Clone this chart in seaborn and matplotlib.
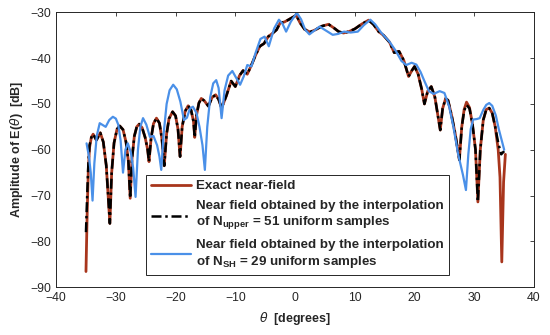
import matplotlib
matplotlib.use('Agg')
import matplotlib.pyplot as plt
import seaborn as sns

# exact near-field pattern
theta_exact = [-35.0, -34.8, -34.6, -34.4, -34.1, -33.8, -33.25, -32.6, -32.1, -31.6, -31.0,
               -30.7, -30.3, -29.8, -29.35, -28.8, -28.3, -27.9, -27.6,
               -27.3, -26.9, -26.5, -26.1, -25.6, -25.1, -24.7, -24.45,
               -24.1, -23.7, -23.2, -22.7, -22.3, -21.9,
               -21.5, -21.1, -20.5, -20.0, -19.6, -19.25,
               -18.9, -18.4, -17.9, -17.4, -17.0, -16.8,
               -16.5, -16.1, -15.7, -15.2, -14.5, -13.9, -13.3, -12.8, -12.3,
               -11.5, -10.7, -10.0, -9.3, -8.7, -8.0, -7.3, -6.6, -5.9, -5.2, -4.5, -3.8, -3.1,
               -2.5, -1.8, -1.1, -0.3, 0.2, 0.8, 1.6, 2.5, 3.4, 4.5, 5.6, 6.5, 7.3, 8.1, 9.0,
               10.0, 11.1, 12.3, 13.1, 14.0, 14.8, 15.8, 16.6, 17.4, 18.2, 19.0, 19.5, 20.0,
               20.6, 21.2, 21.65, 22.2, 22.8, 23.4, 23.9, 24.3, 24.7, 25.2, 25.6, 26.2, 26.8,
               27.5, 27.9, 28.3, 28.7, 29.2, 29.7, 30.2, 30.6, 31.0, 31.5, 32.0, 32.5, 33.0,
               33.5, 34.0, 34.3, 34.6, 34.9, 35.2]
amp_exact = [-86.6, -74.0, -64.0, -59.5, -57.3, -56.6, -57.9, -56.3, -58.3, -63.5, -76.1,
             -65.0, -58.5, -55.5, -54.8, -55.6, -58.3, -62.5, -70.6,
             -62.0, -57.0, -55.0, -54.4, -55.2, -57.3, -59.8, -62.6,
             -57.5, -54.3, -53.1, -54.2, -57.5, -63.5,
             -56.5, -53.2, -51.7, -52.6, -55.5, -61.5,
             -55.0, -51.6, -50.4, -51.4, -53.8, -57.3,
             -52.5, -49.8, -48.8, -49.3, -50.5, -48.6, -48.0, -49.0, -50.9,
             -48.2, -45.0, -46.2, -43.8, -42.7, -43.5, -41.5, -39.3, -37.4, -36.8, -35.3, -34.6, -33.8,
             -32.3, -32.1, -31.6, -31.0, -30.6, -32.2, -33.7, -34.3, -33.8, -33.0, -32.6, -33.4, -34.2, -34.5, -34.2,
             -33.6, -32.6, -31.7, -32.6, -34.2, -35.0, -36.5, -38.8, -38.5, -40.5, -44.0, -42.8, -41.8,
             -43.5, -46.8, -50.0, -47.2, -46.2, -48.5, -52.5, -55.7, -51.0, -48.8, -49.2, -52.5, -56.5,
             -62.2, -55.0, -51.2, -49.6, -50.8, -54.5, -60.0, -71.4, -60.0, -53.5, -51.2, -50.9, -52.0,
             -55.0, -60.0, -66.0, -84.5, -67.0, -61.0]

# interpolation with N_upper = 51 samples
theta_upper = [-35.0, -34.8, -34.6, -34.4, -34.1, -33.8, -33.25, -32.6, -32.1, -31.6, -31.0,
               -30.7, -30.3, -29.8, -29.35, -28.8, -28.3, -27.9, -27.6,
               -27.3, -26.9, -26.5, -26.1, -25.6, -25.1, -24.7, -24.45,
               -24.1, -23.7, -23.2, -22.7, -22.3, -21.9,
               -21.5, -21.1, -20.5, -20.0, -19.6, -19.25,
               -18.9, -18.4, -17.9, -17.4, -17.0, -16.8,
               -16.5, -16.1, -15.7, -15.2, -14.5, -13.9, -13.3, -12.8, -12.3,
               -11.5, -10.7, -10.0, -9.3, -8.7, -8.0, -7.3, -6.6, -5.9, -5.2, -4.5, -3.8, -3.1,
               -2.5, -1.8, -1.1, -0.3, 0.2, 0.8, 1.6, 2.5, 3.4, 4.5, 5.6, 6.5, 7.3, 8.1, 9.0,
               10.0, 11.1, 12.3, 13.1, 14.0, 14.8, 15.8, 16.6, 17.4, 18.2, 19.0, 19.5, 20.0,
               20.6, 21.2, 21.65, 22.2, 22.8, 23.4, 23.9, 24.3, 24.7, 25.2, 25.6, 26.2, 26.8,
               27.5, 27.9, 28.3, 28.7, 29.2, 29.7, 30.2, 30.6, 31.0, 31.5, 32.0, 32.5, 33.0,
               33.5, 34.0, 34.5, 35.0]
amp_upper = [-78.0, -70.0, -63.0, -59.0, -57.3, -56.6, -57.9, -56.3, -58.3, -63.5, -76.1,
             -65.0, -58.5, -55.5, -54.8, -55.6, -58.3, -62.5, -70.6,
             -62.0, -57.0, -55.0, -54.4, -55.2, -57.3, -59.8, -62.6,
             -57.5, -54.3, -53.1, -54.2, -57.5, -63.5,
             -56.5, -53.2, -51.7, -52.6, -55.5, -61.5,
             -55.0, -51.6, -50.4, -51.4, -53.8, -57.3,
             -52.5, -49.8, -48.8, -49.3, -50.5, -48.6, -48.0, -49.0, -50.9,
             -48.2, -45.0, -46.2, -43.8, -42.7, -43.5, -41.5, -39.3, -37.4, -36.8, -35.3, -34.6, -33.8,
             -32.3, -32.1, -31.6, -31.0, -30.6, -32.2, -33.7, -34.3, -33.8, -33.0, -32.6, -33.4, -34.2, -34.5, -34.2,
             -33.6, -32.6, -31.7, -32.6, -34.2, -35.0, -36.5, -38.8, -38.5, -40.5, -44.0, -42.8, -41.8,
             -43.5, -46.8, -50.0, -47.2, -46.2, -48.5, -52.5, -55.7, -51.0, -48.8, -49.2, -52.5, -56.5,
             -62.2, -55.0, -51.5, -50.2, -51.0, -54.5, -60.0, -71.4, -60.0, -53.5, -51.2, -50.9, -52.0,
             -55.0, -58.5, -61.0, -60.3]

# interpolation with N_SH = 29 samples
theta_sh = [-34.9, -34.5, -34.2, -33.9, -33.6, -33.2, -32.7, -32.2, -31.7, -31.1, -30.5, -30.0,
            -29.6, -29.2, -28.8, -28.4, -28.0, -27.5, -27.1, -26.7, -26.3, -25.9, -25.45,
            -24.9, -24.3, -23.7, -23.1, -22.7, -22.4, -22.0, -21.5, -21.0, -20.4, -19.8,
            -19.2, -18.6, -18.1, -17.6, -17.1, -16.5, -16.0, -15.5, -15.1, -14.7, -14.2,
            -13.7, -13.2, -12.8, -12.3, -11.8, -11.2, -10.5, -9.9, -9.2, -8.6, -8.0, -7.3,
            -6.6, -5.8, -5.1, -4.4, -3.5, -2.7, -2.1, -1.5, -0.7, 0.3, 1.0, 1.7, 2.4, 3.2,
            4.1, 5.2, 6.3, 7.2, 8.2, 9.3, 10.5, 11.5, 12.6, 13.4, 14.4, 15.8, 16.9, 17.8,
            18.6, 19.5, 20.3, 21.0, 21.65, 22.4, 23.2, 24.2, 25.0, 25.8, 26.5, 27.3, 28.1,
            28.6, 29.0, 29.4, 29.8, 30.4, 30.9, 31.5, 32.0, 32.5, 33.0, 33.6, 34.1, 34.5, 35.0]
amp_sh = [-58.6, -61.5, -65.0, -71.1, -63.0, -57.0, -54.2, -54.6, -55.0, -53.5, -52.8, -53.2,
          -54.5, -58.0, -65.0, -60.0, -58.6, -60.5, -64.0, -70.3, -60.0, -55.0, -53.1,
          -54.5, -57.2, -57.0, -59.0, -61.5, -64.4, -56.5, -50.0, -47.0, -45.8, -46.8,
          -49.5, -53.5, -53.0, -51.0, -50.6, -52.0, -55.0, -59.0, -64.4, -55.0, -48.5,
          -45.5, -44.8, -46.5, -53.1, -47.0, -43.8, -42.8, -44.2, -45.8, -44.0, -41.5, -41.8,
          -38.8, -35.8, -35.3, -37.4, -33.5, -31.6, -32.5, -34.2, -32.0, -30.1, -31.5, -33.8, -34.8, -34.0,
          -33.1, -34.0, -34.9, -34.7, -34.2, -34.4, -34.2, -32.8, -31.6, -32.6, -34.4, -36.4, -38.5, -40.6,
          -41.5, -41.0, -41.4, -43.0, -45.0, -47.2, -47.8, -47.2, -47.6, -50.6, -55.0, -61.0, -65.5,
          -68.8, -61.0, -55.5, -53.4, -53.3, -53.1, -51.3, -50.2, -49.8, -50.4, -52.5, -55.5, -57.5, -60.0]

labels = ['Exact near-field',
          'Near field obtained by the interpolation\nof N$_{upper}$ = 51 uniform samples',
          'Near field obtained by the interpolation\nof N$_{SH}$ = 29 uniform samples']

sns.set_style('white')
plt.rcParams['font.family'] = ['Liberation Sans', 'DejaVu Sans']
plt.rcParams['mathtext.default'] = 'regular'

fig, ax = plt.subplots(figsize=(5.5, 3.35), dpi=100)
fig.subplots_adjust(left=0.102, right=0.971, top=0.963, bottom=0.143)

sns.lineplot(x=theta_exact, y=amp_exact, ax=ax, color='#A8351C', lw=2.0,
             sort=False, estimator=None, label=labels[0])
sns.lineplot(x=theta_upper, y=amp_upper, ax=ax, color='black', lw=1.8,
             linestyle=(0, (4, 1.5, 1, 1.5)), sort=False, estimator=None, label=labels[1])
sns.lineplot(x=theta_sh, y=amp_sh, ax=ax, color='#4A90E8', lw=1.6,
             sort=False, estimator=None, label=labels[2])

ax.set_xlim(-40, 40)
ax.set_ylim(-90, -30)
ax.set_xticks(range(-40, 41, 10))
ax.set_yticks(range(-90, -29, 10))
ax.tick_params(direction='in', top=True, right=True, length=3, width=0.6,
               labelsize=8.8, colors='#262626')
for s in ax.spines.values():
    s.set_color('#262626')
    s.set_linewidth(0.7)
    s.set_visible(True)

ax.set_xlabel(r'$\mathit{\theta}$  [degrees]', fontsize=9, fontweight='bold', color='#262626')
ax.set_ylabel(r'Amplitude of E($\mathit{\theta}$)  [dB]', fontsize=9, fontweight='bold', color='#262626')

leg = ax.legend(loc='lower left', bbox_to_anchor=(0.188, 0.044),
                prop={'weight': 'bold', 'size': 9.6}, handlelength=3.0, handletextpad=0.35,
                labelspacing=0.6, borderpad=0.4, borderaxespad=0, fancybox=False,
                framealpha=1, edgecolor='#262626')
leg.get_frame().set_linewidth(0.7)

fig.savefig('out.png', dpi=100)
